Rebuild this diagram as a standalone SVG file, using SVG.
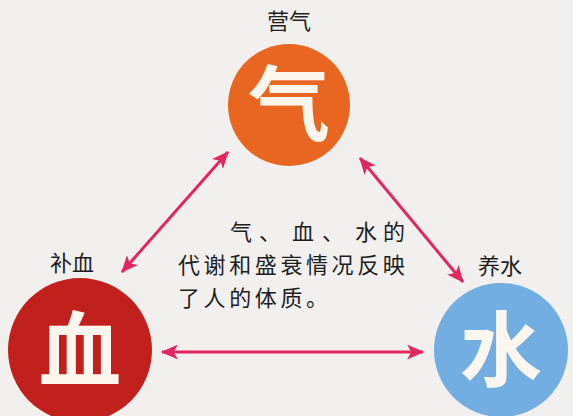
<svg xmlns="http://www.w3.org/2000/svg" width="573" height="416" viewBox="0 0 573 416">
<defs>
<marker id="ah" viewBox="0 0 16 14" markerWidth="17" markerHeight="15" refX="15" refY="7" orient="auto-start-reverse" markerUnits="userSpaceOnUse">
<path d="M0,0 L16,7 L0,14 L4,7 Z" fill="#E1275F"/>
</marker>
</defs>
<style>
.lbl{font-family:"Noto Sans CJK SC","Noto Sans CJK JP",sans-serif;font-size:22px;fill:#1E1E1E;text-anchor:middle}
.big{font-family:"Noto Sans CJK SC","Noto Sans CJK JP",sans-serif;font-size:82px;font-weight:bold;fill:#FBF6EE;text-anchor:middle}
.body{font-family:"Noto Sans CJK SC","Noto Sans CJK JP",sans-serif;font-size:22px;fill:#1E1E1E}
.conn{stroke:#E1275F;stroke-width:3;fill:none;marker-start:url(#ah);marker-end:url(#ah)}
</style>
<rect x="0" y="0" width="573" height="416" fill="#F1F0EE"/>
<g id="connectors">
<path class="conn" d="M122,272 L228,152"/>
<path class="conn" d="M360,158 L463,282"/>
<path class="conn" d="M162,352 L423,352"/>
</g>
<g id="node-qi">
<text class="lbl" x="289" y="29">营气</text>
<circle cx="289" cy="105" r="61" fill="#E8661F"/>
<text class="big" x="289" y="134">气</text>
</g>
<g id="node-xue">
<text class="lbl" x="72" y="271">补血</text>
<circle cx="80" cy="350" r="72" fill="#C2201C"/>
<text class="big" x="80" y="380">血</text>
</g>
<g id="node-shui">
<text class="lbl" x="500" y="274">养水</text>
<circle cx="501" cy="350" r="67" fill="#72AEE2"/>
<text class="big" x="501" y="380">水</text>
</g>
<g id="note">
<text class="body" x="230 259 292 322 355 383" y="240">气、血、水的</text>
<text class="body" x="178" y="273" letter-spacing="3.6">代谢和盛衰情况反映</text>
<text class="body" x="178" y="306" letter-spacing="3.6">了人的体质。</text>
</g>
</svg>
